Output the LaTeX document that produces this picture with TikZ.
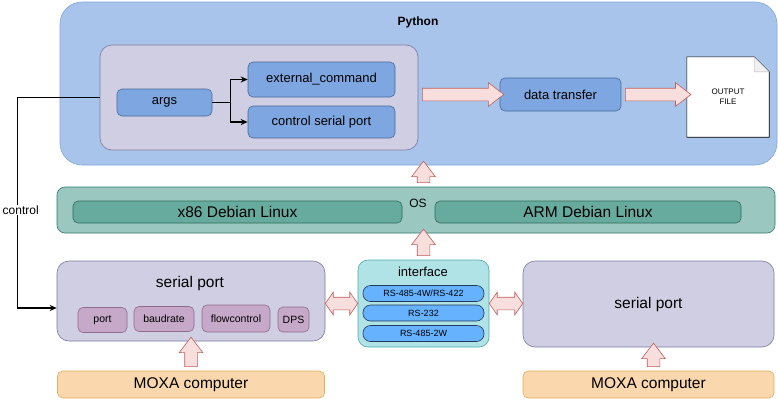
\documentclass[tikz,border=0pt]{standalone}
\usepackage{fontspec}
\setmainfont{Liberation Sans}
\usepackage{xcolor}
\usetikzlibrary{arrows.meta,positioning,calc,shapes.arrows}

\definecolor{pyfill}{HTML}{A9C4EB}
\definecolor{pyline}{HTML}{7EA6E0}
\definecolor{lavfill}{HTML}{D0CEE2}
\definecolor{lavline}{HTML}{7C79A0}
\definecolor{bluefill}{HTML}{7EA6E0}
\definecolor{blueline}{HTML}{4A6A9A}
\definecolor{osfill}{HTML}{9AC7BF}
\definecolor{osline}{HTML}{2E7A6C}
\definecolor{distfill}{HTML}{67AB9F}
\definecolor{distline}{HTML}{2F6B5E}
\definecolor{parfill}{HTML}{C6A8C9}
\definecolor{parline}{HTML}{8E6C8A}
\definecolor{moxafill}{HTML}{FAD7AC}
\definecolor{moxaline}{HTML}{E0B060}
\definecolor{iffill}{HTML}{B0E3E6}
\definecolor{ifline}{HTML}{4AA8AC}
\definecolor{rsfill}{HTML}{66B2FF}
\definecolor{rsline}{HTML}{1F3A5A}
\definecolor{fatfill}{HTML}{F8DEDD}
\definecolor{fatline}{HTML}{C0605C}

% block arrow between two points
\newcommand{\fatarrow}[3][single arrow]{%
  \path let \p1=(#2), \p2=(#3), \n1={veclen(\x2-\x1,\y2-\y1)},
    \n2={atan2(\y2-\y1,\x2-\x1)} in
    node[#1, fat, minimum height=\n1, rotate=\n2] at ($(#2)!0.5!(#3)$) {};}

\begin{document}
\begin{tikzpicture}[x=1pt, y=-1pt,
    box/.style = {draw, rounded corners=5pt, line width=0.6pt, inner sep=0pt},
    blue/.style = {box, fill=bluefill, draw=blueline,
        font=\fontsize{13}{15}\selectfont},
    dist/.style = {box, fill=distfill, draw=distline,
        minimum width=329pt, minimum height=22pt, font=\fontsize{15.5}{17}\selectfont},
    param/.style = {box, fill=parfill, draw=parline, minimum height=25pt,
        font=\fontsize{10.5}{12}\selectfont},
    moxa/.style = {box, fill=moxafill, draw=moxaline, minimum width=267pt,
        minimum height=27pt, font=\fontsize{15.5}{17}\selectfont},
    rs/.style = {box, fill=rsfill, draw=rsline, rounded corners=7.5pt,
        minimum width=121pt, minimum height=16pt, font=\fontsize{9}{10}\selectfont},
    label/.style = {inner sep=1pt, font=\fontsize{12}{14}\selectfont},
    fat/.style = {draw=fatline, fill=fatfill, line width=0.6pt, inner xsep=0pt,
        inner ysep=6pt, single arrow head extend=5.5pt,
        double arrow head extend=5pt, single arrow head indent=0pt,
        single arrow tip angle=75, double arrow tip angle=110},
    arrow/.style = {-{Stealth[length=7pt,width=6pt]}, line width=1.2pt}
  ]
  \useasboundingbox[fill=white] (0,0) rectangle (778,410);

  % Python
  \node[box, fill=pyfill, draw=pyline, rounded corners=22pt, minimum width=717pt,
    minimum height=163pt] (python) at (418.5,83.5) {};
  \node[label, font=\bfseries\fontsize{12}{14}\selectfont] (pytitle) at (418,22) {Python};
  \node[box, fill=lavfill, draw=lavline, rounded corners=12pt, minimum width=318pt,
    minimum height=105pt] (inner) at (259,97.5) {};
  \node[blue, minimum width=95pt, minimum height=27pt] (args) at (164.5,102.5) {args};
  \node[blue, minimum width=147pt, minimum height=35pt] (ext) at (321.5,79.5)
    {external\_command};
  \node[blue, minimum width=147pt, minimum height=32pt] (ctrl) at (321.5,122)
    {control serial port};
  \node[blue, minimum width=121pt, minimum height=33pt] (data) at (560.5,94.5)
    {data transfer};
  \node[minimum width=82pt, minimum height=80pt] (file) at (728,97) {};
  \draw[line width=0.6pt, fill=white] (file.south west) -- (file.north west)
    -- ([xshift=-15pt]file.north east) -- ([yshift=-15pt]file.north east)
    -- (file.south east) -- cycle;
  \filldraw[line width=0.4pt, fill=gray!12, draw=gray!60]
    ([xshift=-15pt]file.north east) -- ([xshift=-15pt,yshift=-15pt]file.north east)
    -- ([yshift=-15pt]file.north east) -- cycle;
  \node[align=center, font=\fontsize{8}{10}\selectfont] (filetext) at (file)
    {OUTPUT\\FILE};

  % OS
  \node[box, fill=osfill, draw=osline, rounded corners=8pt, minimum width=718pt,
    minimum height=46pt] (os) at (416,210) {};
  \node[label] (ostitle) at (418,203) {OS};
  \node[dist] (x86) at (237.5,212) {x86 Debian Linux};
  \node[dist, minimum width=306pt] (arm) at (588,212) {ARM Debian Linux};

  % serial ports
  \node[box, fill=lavfill, draw=lavline, rounded corners=12pt, minimum width=268pt,
    minimum height=80pt] (sp1) at (191,301) {};
  \node[label, font=\fontsize{15.5}{17}\selectfont] (sp1title) at (190,283) {serial port};
  \node[param, minimum width=49pt] (port) at (102.5,320) {port};
  \node[param, minimum width=60pt] (baud) at (164,319) {baudrate};
  \node[param, minimum width=68pt, minimum height=27pt] (flow) at (236,318.5)
    {flowcontrol};
  \node[param, minimum width=31pt] (dps) at (293.5,319.5) {DPS};
  \node[box, fill=lavfill, draw=lavline, rounded corners=12pt, minimum width=251pt,
    minimum height=86pt, font=\fontsize{15.5}{17}\selectfont] (sp2) at (648.5,304)
    {serial port};

  % interface
  \node[box, fill=iffill, draw=ifline, rounded corners=10pt, minimum width=131pt,
    minimum height=87pt] (iface) at (423.5,303.5) {};
  \node[label, font=\fontsize{13}{15}\selectfont] (iftitle) at (423,272) {interface};
  \node[rs] (rs1) at (423.5,293.5) {RS-485-4W/RS-422};
  \node[rs] (rs2) at (423.5,313) {RS-232};
  \node[rs] (rs3) at (423.5,333.5) {RS-485-2W};

  % MOXA
  \node[moxa] (moxa1) at (191,384.5) {MOXA computer};
  \node[moxa, minimum width=251pt] (moxa2) at (648.5,384.5) {MOXA computer};

  % Arrows
  \draw[arrow] (args.east) -- ++(18,0) coordinate (split) |- (ext.west);
  \draw[arrow] (split) |- (ctrl.west);
  \draw[arrow] (inner.west) -- ++(-82,0) coordinate (bend)
    |- ([yshift=-7pt]sp1.west);
  \node[label, fill=white, font=\fontsize{12}{14}\selectfont] (ctrllabel)
    at ([xshift=3pt]bend |- os) {control};

  \fatarrow{inner.east |- data.west}{data.west}
  \fatarrow{data.east}{file.west |- data.east}
  \fatarrow{os.north -| iface.north}{python.south -| iface.north}
  \fatarrow{iface.north}{iface.north |- os.south}
  \fatarrow{moxa1.north}{sp1.south}
  \fatarrow{[xshift=5pt]moxa2.north}{[xshift=5pt]sp2.south}
  \fatarrow[double arrow]{sp1.east |- iface.west}{iface.west}
  \fatarrow[double arrow]{iface.east}{sp2.west |- iface.east}
\end{tikzpicture}
\end{document}
